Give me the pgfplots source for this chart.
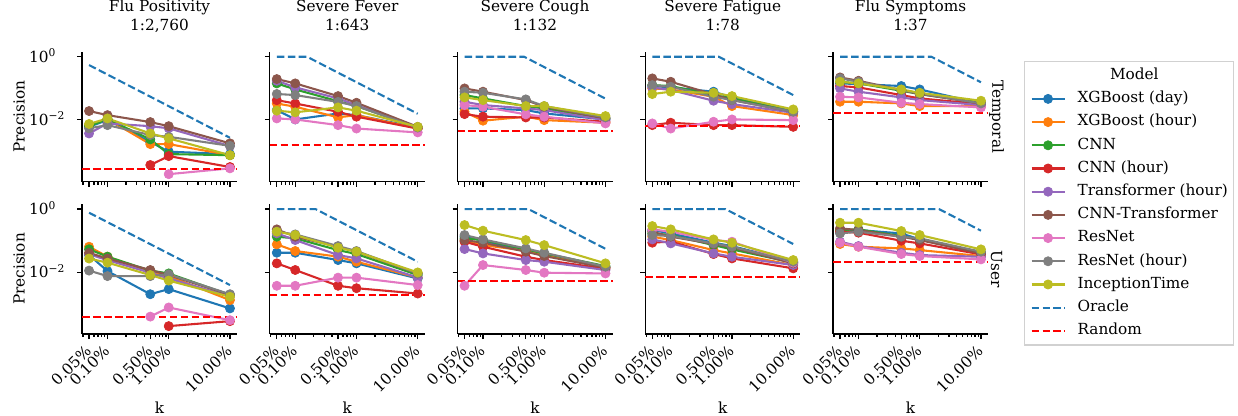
\documentclass[border=0pt]{standalone}
\usepackage{fontspec}
\setmainfont{DejaVu Serif}
\usepackage{pgfplots}
\pgfplotsset{compat=1.18}

% tab10 colours
\definecolor{c0}{HTML}{1F77B4}
\definecolor{c1}{HTML}{FF7F0E}
\definecolor{c2}{HTML}{2CA02C}
\definecolor{c3}{HTML}{D62728}
\definecolor{c4}{HTML}{9467BD}
\definecolor{c5}{HTML}{8C564B}
\definecolor{c6}{HTML}{E377C2}
\definecolor{c7}{HTML}{7F7F7F}
\definecolor{c8}{HTML}{BCBD22}
\definecolor{rnd}{HTML}{FF0000}

\newcommand\ff{\fontsize{11}{13.2}\selectfont}

\pgfplotsset{
  myax/.style={
    scale only axis, width=111.6pt, height=93.6pt, anchor=north west,
    xmin=0.03837, xmax=13.03, ymin=1.096e-4, ymax=1.445,
    axis x line*=bottom, axis y line*=left,
    axis line style={-, line width=0.9pt},
    tick style={black, line width=0.9pt},
    tick align=outside, major tick length=3.6pt, minor tick length=2.1pt,
    xtick={0.05,0.1,0.5,1,10},
    minor xtick={0.04,0.06,0.07,0.08,0.09,0.2,0.3,0.4,0.6,0.7,0.8,0.9,2,3,4,5,6,7,8,9},
    ytick={0.01,1},
    yticklabels={,},
    xticklabels={,,,,},
    tick label style={font=\ff},
    xticklabel style={xshift=-3.6pt, yshift=-3.3pt, rotate=45, anchor=north east, inner sep=0pt},
    yticklabel style={xshift=-34.6pt, yshift=-4pt, anchor=base west, inner sep=0pt},
    title style={font=\ff, align=center, anchor=base, at={(axis description cs:0.5,1.1015)}},
    label style={font=\ff},
    clip=false,
  },
  mylaby/.style={
    yticklabels={10\textsuperscript{−2},10\textsuperscript{0}},
    ylabel={Precision},
    ylabel style={at={(axis description cs:-0.406,0.5)}, anchor=center},
  },
  mylabx/.style={
    xticklabels={0.05\%,0.10\%,0.50\%,1.00\%,10.00\%},
    xlabel={k},
    xlabel style={at={(axis description cs:0.5,-0.567)}, anchor=center},
  },
  mm/.style={#1, mark=*, mark size=3.3pt, line width=1.5pt,
    mark options={solid, line width=0.5pt, fill=#1}},
  orc/.style={c0, mark=none, line width=1.5pt, dash pattern=on 5.5pt off 2.4pt},
  rline/.style={rnd, mark=none, line width=1.5pt, dash pattern=on 5.5pt off 2.4pt},
}

\begin{document}
\begin{tikzpicture}
\path[use as bounding box] (0,0) rectangle (891.36pt,-299.52pt);

% ---------------- Temporal row ----------------
\begin{loglogaxis}[myax, mylaby, at={(59.04pt,-37.22pt)}, title={Flu Positivity\\1:2,760}]
\addplot[mm=c0] coordinates {(0.05,0.006)(0.1,0.0099)(0.5,0.0020)(1,0.00098)(10,0.00082)};
\addplot[mm=c1] coordinates {(0.05,0.0068)(0.1,0.0106)(0.5,0.0017)(1,0.0017)(10,0.00076)};
\addplot[mm=c2] coordinates {(0.05,0.0063)(0.1,0.0106)(0.5,0.0024)(1,0.00082)(10,0.00076)};
\addplot[mm=c3] coordinates {(0.5,0.00037)(1,0.00071)(10,0.00032)};
\addplot[mm=c4] coordinates {(0.05,0.0037)(0.1,0.0077)(0.5,0.0063)(1,0.0054)(10,0.00148)};
\addplot[mm=c5] coordinates {(0.05,0.019)(0.1,0.0141)(0.5,0.0085)(1,0.0063)(10,0.0018)};
\addplot[mm=c6] coordinates {(1,0.00019)(10,0.00029)};
\addplot[mm=c7] coordinates {(0.05,0.0054)(0.1,0.0068)(0.5,0.0033)(1,0.0029)(10,0.0015)};
\addplot[mm=c8] coordinates {(0.05,0.0074)(0.1,0.0111)(0.5,0.0037)(1,0.0026)(10,0.00076)};
\addplot[orc] coordinates {(0.05,0.545)(10,0.0027)};
\addplot[rline] coordinates {(0.03837,0.000275)(13.03,0.000275)};
\end{loglogaxis}

\begin{loglogaxis}[myax, at={(194.22pt,-37.22pt)}, title={Severe Fever\\1:643}]
\addplot[mm=c0] coordinates {(0.05,0.0204)(0.1,0.0103)(0.5,0.0159)(1,0.0141)(10,0.0057)};
\addplot[mm=c1] coordinates {(0.05,0.033)(0.1,0.026)(0.5,0.012)(1,0.0141)(10,0.0053)};
\addplot[mm=c2] coordinates {(0.05,0.143)(0.1,0.092)(0.5,0.039)(1,0.0274)(10,0.0057)};
\addplot[mm=c3] coordinates {(0.05,0.042)(0.1,0.033)(0.5,0.018)(1,0.0126)(10,0.0053)};
\addplot[mm=c4] coordinates {(0.05,0.173)(0.1,0.107)(0.5,0.0478)(1,0.0294)(10,0.0057)};
\addplot[mm=c5] coordinates {(0.05,0.196)(0.1,0.143)(0.5,0.0566)(1,0.0348)(10,0.0060)};
\addplot[mm=c6] coordinates {(0.05,0.0111)(0.1,0.0103)(0.5,0.0068)(1,0.0053)(10,0.0040)};
\addplot[mm=c7] coordinates {(0.05,0.066)(0.1,0.061)(0.5,0.037)(1,0.0274)(10,0.0057)};
\addplot[mm=c8] coordinates {(0.05,0.0195)(0.1,0.0173)(0.5,0.0248)(1,0.0195)(10,0.0060)};
\addplot[orc] coordinates {(0.05,1)(0.156,1)(10,0.0156)};
\addplot[rline] coordinates {(0.03837,0.00155)(13.03,0.00155)};
\end{loglogaxis}

\begin{loglogaxis}[myax, at={(329.40pt,-37.22pt)}, title={Severe Cough\\1:132}]
\addplot[mm=c0] coordinates {(0.05,0.023)(0.1,0.023)(0.5,0.0204)(1,0.016)(10,0.0103)};
\addplot[mm=c1] coordinates {(0.05,0.018)(0.1,0.0094)(0.5,0.0126)(1,0.0098)(10,0.0081)};
\addplot[mm=c2] coordinates {(0.05,0.061)(0.1,0.0478)(0.5,0.0273)(1,0.023)(10,0.0111)};
\addplot[mm=c3] coordinates {(0.05,0.0152)(0.1,0.0126)(0.5,0.0119)(1,0.0119)(10,0.0087)};
\addplot[mm=c4] coordinates {(0.05,0.0375)(0.1,0.0294)(0.5,0.023)(1,0.0204)(10,0.0098)};
\addplot[mm=c5] coordinates {(0.05,0.099)(0.1,0.078)(0.5,0.0423)(1,0.026)(10,0.0111)};
\addplot[mm=c6] coordinates {(0.05,0.0294)(0.1,0.026)(0.5,0.0149)(1,0.0126)(10,0.0077)};
\addplot[mm=c7] coordinates {(0.05,0.078)(0.1,0.072)(0.5,0.0445)(1,0.0273)(10,0.0119)};
\addplot[mm=c8] coordinates {(0.05,0.0514)(0.1,0.0423)(0.5,0.0273)(1,0.0273)(10,0.0132)};
\addplot[orc] coordinates {(0.05,1)(0.47,1)(10,0.047)};
\addplot[rline] coordinates {(0.03837,0.0044)(13.03,0.0044)};
\end{loglogaxis}

\begin{loglogaxis}[myax, at={(464.58pt,-37.22pt)}, title={Severe Fatigue\\1:78}]
\addplot[mm=c0] coordinates {(0.05,0.118)(0.1,0.107)(0.5,0.078)(1,0.0514)(10,0.019)};
\addplot[mm=c1] coordinates {(0.05,0.099)(0.1,0.092)(0.5,0.054)(1,0.0273)(10,0.0142)};
\addplot[mm=c2] coordinates {(0.05,0.126)(0.1,0.118)(0.5,0.061)(1,0.0478)(10,0.018)};
\addplot[mm=c3] coordinates {(0.05,0.0068)(0.1,0.0081)(0.5,0.0068)(1,0.0068)(10,0.006)};
\addplot[mm=c4] coordinates {(0.05,0.107)(0.1,0.088)(0.5,0.0403)(1,0.0316)(10,0.0168)};
\addplot[mm=c5] coordinates {(0.05,0.206)(0.1,0.161)(0.5,0.064)(1,0.0423)(10,0.018)};
\addplot[mm=c6] coordinates {(0.05,0.0077)(0.1,0.0053)(0.5,0.0087)(1,0.0103)(10,0.0098)};
\addplot[mm=c7] coordinates {(0.05,0.126)(0.1,0.112)(0.5,0.054)(1,0.0423)(10,0.018)};
\addplot[mm=c8] coordinates {(0.05,0.0656)(0.1,0.078)(0.5,0.072)(1,0.0566)(10,0.0214)};
\addplot[orc] coordinates {(0.05,1)(0.61,1)(10,0.061)};
\addplot[rline] coordinates {(0.03837,0.0063)(13.03,0.0063)};
\end{loglogaxis}

\begin{loglogaxis}[myax, at={(599.76pt,-37.22pt)}, title={Flu Symptoms\\1:37},
  legend cell align=left,
  legend image code/.code={\draw[mark repeat=2, mark phase=2] plot coordinates {(0pt,0pt) (11.9pt,0pt) (23.8pt,0pt)};},
  legend style={at={(axis description cs:1.232,0.928)}, anchor=north west,
    draw=black!18, line width=0.8pt, font=\ff,
    inner xsep=4.3pt, inner ysep=4.9pt, row sep=6.2pt, column sep=8.6pt,
    nodes={inner sep=0pt, text height=8pt, text depth=2.5pt}}]
\addlegendimage{empty legend}\addlegendentry{\hspace*{23.4pt}Model}
\addplot[mm=c0] coordinates {(0.05,0.143)(0.1,0.136)(0.5,0.118)(1,0.092)(10,0.0332)};
\addlegendentry{XGBoost (day)}
\addplot[mm=c1] coordinates {(0.05,0.0375)(0.1,0.0375)(0.5,0.0332)(1,0.0273)(10,0.0273)};
\addlegendentry{XGBoost (hour)}
\addplot[mm=c2] coordinates {(0.05,0.161)(0.1,0.143)(0.5,0.0836)(1,0.0656)(10,0.0348)};
\addlegendentry{CNN}
\addplot[mm=c3] coordinates {(0.05,0.118)(0.1,0.107)(0.5,0.061)(1,0.0478)(10,0.0316)};
\addlegendentry{CNN (hour)}
\addplot[mm=c4] coordinates {(0.05,0.099)(0.1,0.078)(0.5,0.0514)(1,0.0423)(10,0.0294)};
\addlegendentry{Transformer (hour)}
\addplot[mm=c5] coordinates {(0.05,0.221)(0.1,0.173)(0.5,0.088)(1,0.0656)(10,0.0332)};
\addlegendentry{CNN-Transformer}
\addplot[mm=c6] coordinates {(0.05,0.054)(0.1,0.0514)(0.5,0.0348)(1,0.0316)(10,0.0248)};
\addlegendentry{ResNet}
\addplot[mm=c7] coordinates {(0.05,0.206)(0.1,0.161)(0.5,0.088)(1,0.0689)(10,0.0332)};
\addlegendentry{ResNet (hour)}
\addplot[mm=c8] coordinates {(0.05,0.161)(0.1,0.143)(0.5,0.092)(1,0.072)(10,0.0403)};
\addlegendentry{InceptionTime}
\addplot[orc] coordinates {(0.05,1)(1.55,1)(10,0.155)};
\addlegendentry{Oracle}
\addplot[rline] coordinates {(0.03837,0.016)(13.03,0.016)};
\addlegendentry{Random}
\node[rotate=-90, font=\ff] at (axis description cs:1.055,0.5) {Temporal};
\end{loglogaxis}

% ---------------- User row ----------------
\begin{loglogaxis}[myax, mylaby, mylabx, at={(59.04pt,-146.88pt)}]
\addplot[mm=c0] coordinates {(0.05,0.035)(0.1,0.0108)(0.5,0.0020)(1,0.0029)(10,0.00071)};
\addplot[mm=c1] coordinates {(0.05,0.064)(0.1,0.031)(0.5,0.0103)(1,0.0075)(10,0.0013)};
\addplot[mm=c2] coordinates {(0.05,0.053)(0.1,0.031)(0.5,0.0112)(1,0.0091)(10,0.0019)};
\addplot[mm=c3] coordinates {(1,0.000195)(10,0.00028)};
\addplot[mm=c4] coordinates {(0.05,0.037)(0.1,0.024)(0.5,0.0096)(1,0.0063)(10,0.0017)};
\addplot[mm=c5] coordinates {(0.05,0.041)(0.1,0.027)(0.5,0.0117)(1,0.0081)(10,0.0019)};
\addplot[mm=c6] coordinates {(0.5,0.00039)(1,0.00076)(10,0.0003)};
\addplot[mm=c7] coordinates {(0.05,0.0112)(0.1,0.0075)(0.5,0.0075)(1,0.0085)(10,0.0020)};
\addplot[mm=c8] coordinates {(0.05,0.027)(0.1,0.020)(0.5,0.0081)(1,0.0054)(10,0.00166)};
\addplot[orc] coordinates {(0.05,0.765)(10,0.0039)};
\addplot[rline] coordinates {(0.03837,0.00039)(13.03,0.00039)};
\end{loglogaxis}

\begin{loglogaxis}[myax, mylabx, at={(194.22pt,-146.88pt)}]
\addplot[mm=c0] coordinates {(0.05,0.0413)(0.1,0.0413)(0.5,0.0242)(1,0.019)(10,0.0063)};
\addplot[mm=c1] coordinates {(0.05,0.076)(0.1,0.0467)(0.5,0.031)(1,0.0214)(10,0.0068)};
\addplot[mm=c2] coordinates {(0.05,0.133)(0.1,0.118)(0.5,0.050)(1,0.0375)(10,0.0081)};
\addplot[mm=c3] coordinates {(0.05,0.019)(0.1,0.0117)(0.5,0.0037)(1,0.0031)(10,0.0021)};
\addplot[mm=c4] coordinates {(0.05,0.17)(0.1,0.104)(0.5,0.0348)(1,0.0273)(10,0.0068)};
\addplot[mm=c5] coordinates {(0.05,0.227)(0.1,0.133)(0.5,0.064)(1,0.0445)(10,0.0091)};
\addplot[mm=c6] coordinates {(0.05,0.0037)(0.1,0.0037)(0.5,0.0067)(1,0.0067)(10,0.0039)};
\addplot[mm=c7] coordinates {(0.05,0.191)(0.1,0.157)(0.5,0.0672)(1,0.0467)(10,0.0091)};
\addplot[mm=c8] coordinates {(0.05,0.191)(0.1,0.150)(0.5,0.0594)(1,0.0445)(10,0.0098)};
\addplot[orc] coordinates {(0.05,1)(0.214,1)(10,0.0214)};
\addplot[rline] coordinates {(0.03837,0.00188)(13.03,0.00188)};
\end{loglogaxis}

\begin{loglogaxis}[myax, mylabx, at={(329.40pt,-146.88pt)}]
\addplot[mm=c0] coordinates {(0.05,0.133)(0.1,0.099)(0.5,0.0478)(1,0.0348)(10,0.0142)};
\addplot[mm=c1] coordinates {(0.05,0.099)(0.1,0.072)(0.5,0.0478)(1,0.0375)(10,0.0142)};
\addplot[mm=c2] coordinates {(0.05,0.118)(0.1,0.104)(0.5,0.0527)(1,0.0393)(10,0.0156)};
\addplot[mm=c3] coordinates {(0.05,0.092)(0.1,0.064)(0.5,0.0308)(1,0.0242)(10,0.0128)};
\addplot[mm=c4] coordinates {(0.05,0.054)(0.1,0.0393)(0.5,0.0242)(1,0.0214)(10,0.0117)};
\addplot[mm=c5] coordinates {(0.05,0.104)(0.1,0.0857)(0.5,0.0445)(1,0.0324)(10,0.0138)};
\addplot[mm=c6] coordinates {(0.05,0.0037)(0.1,0.0168)(0.5,0.0117)(1,0.0096)(10,0.0091)};
\addplot[mm=c7] coordinates {(0.05,0.150)(0.1,0.109)(0.5,0.0566)(1,0.0413)(10,0.0149)};
\addplot[mm=c8] coordinates {(0.05,0.311)(0.1,0.206)(0.5,0.104)(1,0.072)(10,0.019)};
\addplot[orc] coordinates {(0.05,1)(0.55,1)(10,0.055)};
\addplot[rline] coordinates {(0.03837,0.0053)(13.03,0.0053)};
\end{loglogaxis}

\begin{loglogaxis}[myax, mylabx, at={(464.58pt,-146.88pt)}]
\addplot[mm=c0] coordinates {(0.05,0.216)(0.1,0.169)(0.5,0.0857)(1,0.0672)(10,0.0214)};
\addplot[mm=c1] coordinates {(0.05,0.133)(0.1,0.104)(0.5,0.050)(1,0.0393)(10,0.0168)};
\addplot[mm=c2] coordinates {(0.05,0.169)(0.1,0.150)(0.5,0.072)(1,0.0527)(10,0.02)};
\addplot[mm=c3] coordinates {(0.05,0.0857)(0.1,0.0935)(0.5,0.0375)(1,0.0273)(10,0.0132)};
\addplot[mm=c4] coordinates {(0.05,0.109)(0.1,0.0816)(0.5,0.0393)(1,0.0308)(10,0.0168)};
\addplot[mm=c5] coordinates {(0.05,0.191)(0.1,0.133)(0.5,0.078)(1,0.061)(10,0.019)};
\addplot[mm=c6] coordinates {(0.05,0.227)(0.1,0.191)(0.5,0.104)(1,0.092)(10,0.02)};
\addplot[mm=c7] coordinates {(0.05,0.150)(0.1,0.139)(0.5,0.0816)(1,0.064)(10,0.0214)};
\addplot[mm=c8] coordinates {(0.05,0.289)(0.1,0.227)(0.5,0.109)(1,0.0857)(10,0.0242)};
\addplot[orc] coordinates {(0.05,1)(0.78,1)(10,0.078)};
\addplot[rline] coordinates {(0.03837,0.0072)(13.03,0.0072)};
\end{loglogaxis}

\begin{loglogaxis}[myax, mylabx, at={(599.76pt,-146.88pt)}]
\addplot[mm=c0] coordinates {(0.05,0.178)(0.1,0.216)(0.5,0.169)(1,0.109)(10,0.0393)};
\addplot[mm=c1] coordinates {(0.05,0.078)(0.1,0.064)(0.5,0.0566)(1,0.050)(10,0.0324)};
\addplot[mm=c2] coordinates {(0.05,0.216)(0.1,0.227)(0.5,0.139)(1,0.109)(10,0.0413)};
\addplot[mm=c3] coordinates {(0.05,0.191)(0.1,0.178)(0.5,0.099)(1,0.0816)(10,0.0366)};
\addplot[mm=c4] coordinates {(0.05,0.092)(0.1,0.0672)(0.5,0.0413)(1,0.0348)(10,0.0308)};
\addplot[mm=c5] coordinates {(0.05,0.244)(0.1,0.216)(0.5,0.133)(1,0.104)(10,0.0393)};
\addplot[mm=c6] coordinates {(0.05,0.0857)(0.1,0.064)(0.5,0.0375)(1,0.0324)(10,0.0254)};
\addplot[mm=c7] coordinates {(0.05,0.169)(0.1,0.191)(0.5,0.133)(1,0.118)(10,0.0445)};
\addplot[mm=c8] coordinates {(0.05,0.369)(0.1,0.369)(0.5,0.201)(1,0.150)(10,0.0527)};
\addplot[orc] coordinates {(0.05,1)(2.06,1)(10,0.206)};
\addplot[rline] coordinates {(0.03837,0.0204)(13.03,0.0204)};
\node[rotate=-90, font=\ff] at (axis description cs:1.055,0.5) {User};
\end{loglogaxis}
\end{tikzpicture}
\end{document}
